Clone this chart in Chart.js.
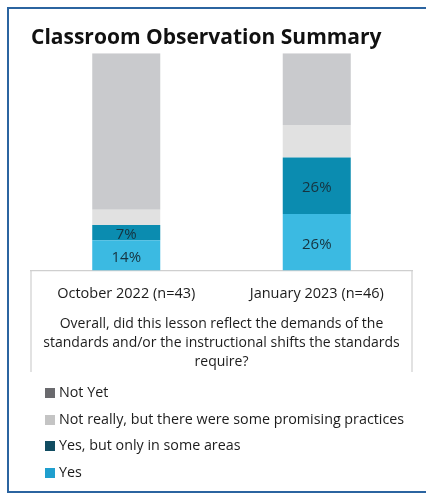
<!DOCTYPE html>
<html>
<head>
<meta charset="utf-8">
<script src="https://cdn.jsdelivr.net/npm/chart.js@4.4.1/dist/chart.umd.min.js"></script>
<style>
  html, body { margin: 0; padding: 0; background: #fff; }
  body { width: 426px; height: 495px; position: relative; overflow: hidden; font-family: "Open Sans", sans-serif; }
  .frame { position: absolute; left: 7px; top: 7px; width: 417px; height: 482px; border: 2.5px solid #2b64a0; border-right: none; }
  .wrap { position: absolute; left: 0; top: 0; width: 426px; height: 380px; }
  #legend { position: absolute; left: 45px; top: 379px; margin: 0; padding: 0; list-style: none; }
  #legend li { height: 26.7px; line-height: 26.7px; font-size: 14.3px; color: #1c1c1c; white-space: nowrap; }
  #legend span { display: inline-block; width: 10px; height: 10px; margin-right: 4px; vertical-align: -1px; }
</style>
</head>
<body>
<div class="frame"></div>
<div class="wrap"><canvas id="chart"></canvas></div>
<ul id="legend"></ul>
<script>
const categories = ['October 2022 (n=43)', 'January 2023 (n=46)'];
const seriesNames = ['Not Yet', 'Not really, but there were some promising practices', 'Yes, but only in some areas', 'Yes'];
const notYet = [72, 33];
const notReally = [7, 15];
const yesSome = [7, 26];
const yes = [14, 26];
const barColors = ['#c9cacd', '#e1e1e1', '#0b8cb0', '#3bbae2'];
const legendColors = ['#6a6a6e', '#c4c4c4', '#114c61', '#1f9fce'];
const questionLines = ['Overall, did this lesson reflect the demands of the', 'standards and/or the instructional shifts the standards', 'require?'];

const font = '"Open Sans", sans-serif';

// percent labels only on the two "Yes" segments (datasets 0 and 1)
const labelPlugin = {
  id: 'segLabels',
  afterDatasetsDraw(chart) {
    const ctx = chart.ctx;
    ctx.save();
    ctx.font = '15px ' + font;
    ctx.fillStyle = '#16333f';
    ctx.textAlign = 'center';
    ctx.textBaseline = 'middle';
    [0, 1].forEach(di => {
      const ds = chart.data.datasets[di];
      chart.getDatasetMeta(di).data.forEach((bar, i) => {
        const y = (bar.y + bar.base) / 2 + 2;
        ctx.fillText(ds.data[i] + '%', bar.x, y);
      });
    });
    ctx.restore();
  },
  afterDraw(chart) {
    const a = chart.chartArea, sx = chart.scales.x;
    const ctx = chart.ctx;
    ctx.save();
    ctx.strokeStyle = '#cfcfcf';
    ctx.lineWidth = 1.2;
    ctx.beginPath();
    ctx.moveTo(a.left, a.bottom); ctx.lineTo(a.left, sx.bottom);
    ctx.moveTo(a.right, a.bottom); ctx.lineTo(a.right, sx.bottom);
    ctx.stroke();
    ctx.restore();
  }
};

const chart = new Chart(document.getElementById('chart'), {
  type: 'bar',
  data: {
    labels: categories,
    datasets: [
      { label: seriesNames[3], data: yes, backgroundColor: barColors[3] },
      { label: seriesNames[2], data: yesSome, backgroundColor: barColors[2] },
      { label: seriesNames[1], data: notReally, backgroundColor: barColors[1] },
      { label: seriesNames[0], data: notYet, backgroundColor: barColors[0] }
    ]
  },
  options: {
    responsive: true,
    maintainAspectRatio: false,
    animation: false,
    datasets: { bar: { categoryPercentage: 1, barPercentage: 0.357 } },
    layout: { padding: { left: 31, right: 14, top: 23, bottom: 8 } },
    scales: {
      x: {
        stacked: true,
        grid: { display: false },
        border: { display: true, color: '#cfcfcf', width: 1.2 },
        ticks: { color: '#1c1c1c', padding: 7, font: { family: font, size: 14.5 } },
        title: {
          display: true,
          text: questionLines,
          color: '#1c1c1c',
          padding: { top: 5, bottom: 0 },
          font: { family: font, size: 14, lineHeight: '19px' }
        }
      },
      y: { stacked: true, display: false, min: 0, max: 100 }
    },
    plugins: {
      legend: { display: false },
      tooltip: { enabled: false },
      title: {
        display: true,
        text: 'Classroom Observation Summary',
        align: 'start',
        color: '#111',
        padding: { top: 2, bottom: 3 },
        font: { family: font, size: 21, weight: 'bold', lineHeight: 1.2 }
      }
    }
  },
  plugins: [labelPlugin]
});

// legend in the source's order, with its own swatch colours
const ul = document.getElementById('legend');
seriesNames.forEach((name, i) => {
  const li = document.createElement('li');
  const sw = document.createElement('span');
  sw.style.background = legendColors[i];
  li.appendChild(sw);
  li.appendChild(document.createTextNode(name));
  ul.appendChild(li);
});
</script>
</body>
</html>
